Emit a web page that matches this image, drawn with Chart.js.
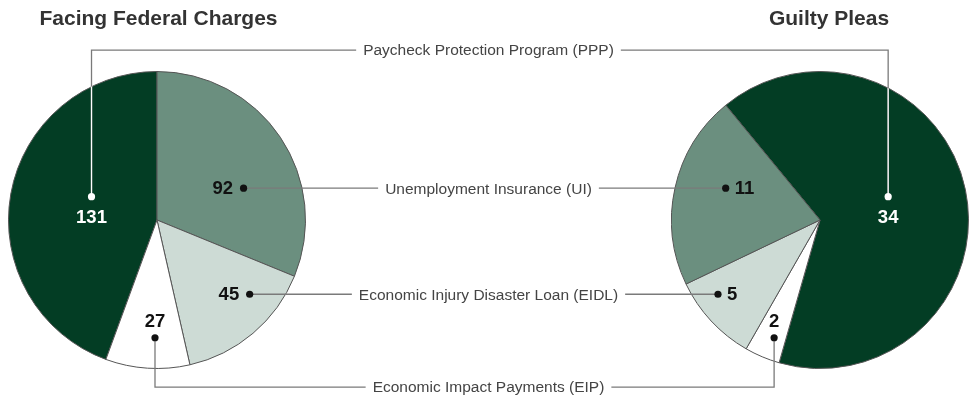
<!DOCTYPE html>
<html>
<head>
<meta charset="utf-8">
<script src="https://cdn.jsdelivr.net/npm/chart.js@4.4.0/dist/chart.umd.min.js"></script>
<style>
body { margin: 0; background: #fff; width: 975px; height: 397px; position: relative; overflow: hidden; }
canvas { position: absolute; }
#charged_pie { left: 8px; top: 71px; }
#pleas_pie { left: 671px; top: 71px; }
#connectors { left: 0; top: 0; pointer-events: none; }
</style>
</head>
<body>
<canvas id="charged_pie" width="298" height="298"></canvas>
<canvas id="pleas_pie" width="298" height="298"></canvas>
<canvas id="connectors" width="975" height="397"></canvas>
<script>
const programs = [
    'Paycheck Protection Program (PPP)',
    'Unemployment Insurance (UI)',
    'Economic Injury Disaster Loan (EIDL)',
    'Economic Impact Payments (EIP)'
]
const charged_counts = [131, 92, 45, 27]
const plea_counts = [34, 11, 5, 2]
// the pleas pie runs the other way round
const plea_order = [0, 3, 2, 1]
const slice_colors = ['#033d24', '#6b8f7f', '#cddbd5', '#ffffff']
const titles = ['Facing Federal Charges', 'Guilty Pleas']

// where each value dot sits, as a fraction of the pie radius from its centre
const dot_rows = [-0.157, -0.214, 0.5, 0.793]
const dot_cols = [
    [-0.441, 0.583, 0.624, -0.0135],
    [0.459, -0.635, -0.687, -0.309]
]
const number_side = [
    ['below', 'left', 'left', 'above'],
    ['below', 'right', 'right', 'above']
]
const rail_rows = [-1.144, null, null, 1.126]

const FONT = '"Liberation Sans", Arial, Helvetica, sans-serif'

function make_pie(id, values, order, rotation)
{
    const ctx = document.getElementById(id).getContext('2d')
    return new Chart(ctx, {
        type: 'pie',
        data: {
            labels: order.map(i => programs[i]),
            datasets: [{
                data: order.map(i => values[i]),
                backgroundColor: order.map(i => slice_colors[i]),
                borderColor: '#555',
                borderWidth: 1
            }]
        },
        options: {
            responsive: false,
            animation: false,
            rotation: rotation,
            layout: { padding: 0 },
            plugins: {
                legend: { display: false },
                tooltip: { enabled: false }
            }
        }
    })
}

function pie_geometry(chart)
{
    const canvas = chart.canvas
    const arcs = chart.getDatasetMeta(0).data
    const dark = arcs[0]
    return {
        chart: chart,
        ox: canvas.offsetLeft,
        oy: canvas.offsetTop,
        cx: canvas.offsetLeft + dark.x,
        cy: canvas.offsetTop + dark.y,
        r: dark.outerRadius,
        dark: dark
    }
}

function clip_dark(ctx, g)
{
    ctx.beginPath()
    ctx.moveTo(g.cx, g.cy)
    ctx.arc(g.cx, g.cy, g.r, g.dark.startAngle, g.dark.endAngle)
    ctx.closePath()
    ctx.clip()
}

function in_dark(g, x, y)
{
    return g.dark.inRange(x - g.ox, y - g.oy)
}

function draw_connectors(charts)
{
    const ctx = document.getElementById('connectors').getContext('2d')
    const pies = charts.map(pie_geometry)
    const values = [charged_counts, plea_counts]
    const mid_x = (pies[0].cx + pies[1].cx) / 2
    const gap = 7

    // titles
    ctx.fillStyle = '#333'
    ctx.font = 'bold 21px ' + FONT
    ctx.textAlign = 'center'
    ctx.textBaseline = 'alphabetic'
    ctx.fillText(titles[0], 158.5, 25)
    ctx.fillText(titles[1], 829, 25)

    const paths = []
    const dots = []

    programs.forEach((name, i) => {
        const ends = pies.map((g, p) => ({
            x: g.cx + dot_cols[p][i] * g.r,
            y: g.cy + dot_rows[i] * g.r
        }))
        const rail = rail_rows[i]
        const label_y = rail === null ? ends[0].y : pies[0].cy + rail * pies[0].r

        ctx.font = '15.5px ' + FONT
        const w = ctx.measureText(name).width
        ctx.fillStyle = '#444'
        ctx.textAlign = 'center'
        ctx.textBaseline = 'middle'
        ctx.fillText(name, mid_x, label_y + 1)

        const left_x = mid_x - w / 2 - gap
        const right_x = mid_x + w / 2 + gap
        paths.push([[ends[0].x, ends[0].y], [ends[0].x, label_y], [left_x, label_y]])
        paths.push([[right_x, label_y], [ends[1].x, label_y], [ends[1].x, ends[1].y]])

        ends.forEach((pt, p) => dots.push({ pt: pt, pie: pies[p], value: values[p][i], side: number_side[p][i] }))
    })

    function stroke_paths(color)
    {
        ctx.strokeStyle = color
        ctx.lineWidth = 1.3
        paths.forEach(path => {
            ctx.beginPath()
            path.forEach(([x, y], k) => k ? ctx.lineTo(x, y) : ctx.moveTo(x, y))
            ctx.stroke()
        })
    }

    stroke_paths('#7a7a7a')
    pies.forEach(g => {
        ctx.save()
        clip_dark(ctx, g)
        stroke_paths('#ffffff')
        ctx.restore()
    })

    dots.forEach(d => {
        const light = in_dark(d.pie, d.pt.x, d.pt.y)
        const color = light ? '#ffffff' : '#111111'
        ctx.fillStyle = color
        ctx.beginPath()
        ctx.arc(d.pt.x, d.pt.y, 3.6, 0, Math.PI * 2)
        ctx.fill()

        ctx.font = 'bold 18.5px ' + FONT
        ctx.textBaseline = 'middle'
        let x = d.pt.x, y = d.pt.y + 1
        if (d.side === 'below') { ctx.textAlign = 'center'; y = d.pt.y + 21 }
        else if (d.side === 'above') { ctx.textAlign = 'center'; y = d.pt.y - 16 }
        else if (d.side === 'left') { ctx.textAlign = 'right'; x = d.pt.x - 10.5 }
        else { ctx.textAlign = 'left'; x = d.pt.x + 9 }
        ctx.fillText(String(d.value), x, y)
    })
}

function init()
{
    const charged_total = charged_counts.reduce((a, b) => a + b, 0)
    const charged_pie = make_pie('charged_pie', charged_counts, [0, 1, 2, 3],
        -charged_counts[0] / charged_total * 360)
    const pleas_pie = make_pie('pleas_pie', plea_counts, plea_order, -39.4)
    draw_connectors([charged_pie, pleas_pie])
}

init()
</script>
</body>
</html>
